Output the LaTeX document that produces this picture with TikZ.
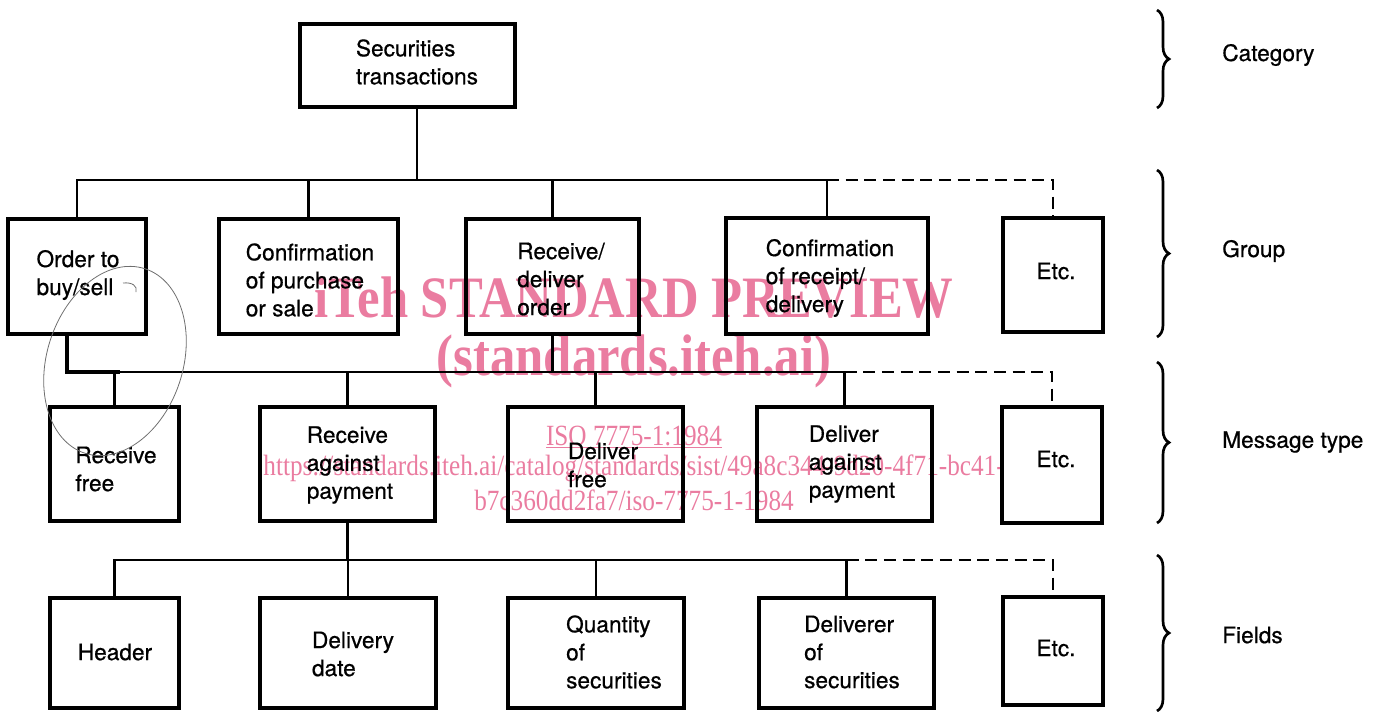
\documentclass[tikz,border=0pt]{standalone}
\usepackage{fontspec}
\usepackage{graphicx}
\setmainfont{TeX Gyre Heros}
\newfontfamily\lblfont{TeX Gyre Heros}[FakeBold=0.6]
\newfontfamily\wmfont{Liberation Serif}
\usetikzlibrary{fit,decorations.pathreplacing}
\definecolor{wmpink}{RGB}{234,124,160}
\definecolor{handgray}{RGB}{110,110,110}
\tikzset{
  boxframe/.style={draw, line width=2.5pt, inner sep=0pt},
  boxtext/.style={align=left, inner sep=0pt, font=\lblfont\fontsize{17}{21}\selectfont},
  conn/.style={line width=1.6pt},
  dashconn/.style={line width=1.6pt, dash pattern=on 9pt off 5pt},
  handmark/.style={line width=3.6pt},
  handline/.style={line width=0.6pt, handgray},
  bracestyle/.style={line width=2pt, decorate, decoration={brace, amplitude=9pt}},
  sidelabel/.style={anchor=west, inner sep=0pt, font=\lblfont\fontsize{17}{21}\selectfont},
  wmbig/.style={text=wmpink, inner sep=0pt, font=\wmfont\bfseries\fontsize{44}{50}\selectfont},
  wmsmall/.style={text=wmpink, inner sep=0pt, font=\wmfont\fontsize{22}{24}\selectfont}
}
\newcommand{\mkbox}[6]{%
  \node[boxframe, fit={(#2,#3)(#4,#5)}] (#1) {};
}
\begin{document}
\begin{tikzpicture}[x=0.75pt,y=-0.75pt]
\useasboundingbox (0,0) rectangle (1387,711);

% watermark (behind)
\node[wmbig] (wm1) at (634,298) {\scalebox{0.864}[1]{iTeh STANDARD PREVIEW}};
\node[wmbig] (wm2) at (634,361) {\scalebox{0.864}[1]{(standards.iteh.ai)}};
\node[wmsmall] (wm3) at (634,437) {\scalebox{0.86}[1]{\underline{ISO 7775-1:1984}}};
\node[wmsmall] (wm4) at (634,468) {\scalebox{0.86}[1]{https://standards.iteh.ai/catalog/standards/sist/49a8c344-9d20-4f71-bc41-}};
\node[wmsmall] (wm5) at (634,500) {\scalebox{0.86}[1]{b7c360dd2fa7/iso-7775-1-1984}};

% boxes
\mkbox{sec}{300}{24}{515}{107}{}
\mkbox{ord}{8}{219}{146}{334}{}
\mkbox{cpur}{219}{219}{398}{334}{}
\mkbox{rdo}{466}{219}{639}{334}{}
\mkbox{crd}{726}{218}{928}{334}{}
\mkbox{ea}{1003}{218}{1103}{332}{}
\mkbox{rf}{50}{407}{179}{521}{}
\mkbox{rap}{260}{407}{435}{521}{}
\mkbox{df}{508}{407}{683}{521}{}
\mkbox{dap}{757}{407}{932}{521}{}
\mkbox{eb}{1002}{407}{1102}{523}{}
\mkbox{hdr}{50}{598}{179}{708}{}
\mkbox{dd}{260}{598}{436}{708}{}
\mkbox{qty}{508}{598}{684}{708}{}
\mkbox{dlr}{759}{598}{934}{708}{}
\mkbox{ec}{1003}{597}{1103}{705}{}

% texts
\node[boxtext] (sec-t) at (417,62) {Securities\\transactions};
\node[boxtext] (ord-t) at (78,275) {Order to\\buy/sell};
\node[boxtext] (cpur-t) at (310,280) {Confirmation\\of purchase\\or sale};
\node[boxtext] (rdo-t) at (561,279) {Receive/\\deliver\\order};
\node[boxtext] (crd-t) at (830,278) {Confirmation\\of receipt/\\delivery};
\node[boxtext] (ea-t) at (1056,271) {Etc.};
\node[boxtext] (rf-t) at (116,469) {Receive\\free};
\node[boxtext] (rap-t) at (350,465) {Receive\\against\\payment};
\node[boxtext] (df-t) at (603,465) {Deliver\\free};
\node[boxtext] (dap-t) at (852,464) {Deliver\\against\\payment};
\node[boxtext] (eb-t) at (1056,459) {Etc.};
\node[boxtext] (hdr-t) at (115,652) {Header};
\node[boxtext] (dd-t) at (353,654) {Delivery\\date};
\node[boxtext] (qty-t) at (614,652) {Quantity\\of\\securities};
\node[boxtext] (dlr-t) at (852,652) {Deliverer\\of\\securities};
\node[boxtext] (ec-t) at (1056,648) {Etc.};

% bus levels
\coordinate (L1) at (0,180);
\coordinate (L2) at (0,372);
\coordinate (L3) at (0,560);
\coordinate (mk) at (67,372);

% level 1
\draw[conn] (sec.south -| sec-t) -- (sec-t |- L1);
\draw[conn] (ord.north) -- (ord.north |- L1) -- (crd.north |- L1) -- (crd.north);
\draw[conn] (cpur.north) -- (cpur.north |- L1);
\draw[conn] (rdo.north) -- (rdo.north |- L1);
\draw[dashconn] (crd.north |- L1) -- (ea.north |- L1) -- (ea.north);

% level 2
\draw[conn] (rdo.south) -- (rdo.south |- L2);
\draw[conn] (mk) -- (dap.north |- L2) -- (dap.north);
\draw[conn] (rf.north) -- (rf.north |- L2);
\draw[conn] (rap.north) -- (rap.north |- L2);
\draw[conn] (df.north) -- (df.north |- L2);
\draw[dashconn] (dap.north |- L2) -- (eb.north |- L2) -- (eb.north);
\draw[handmark] (ord.south -| mk) -- (mk) -- ([xshift=4pt]rf.north |- L2);

% level 3
\draw[conn] (rap.south) -- (rap.south |- L3);
\draw[conn] (hdr.north) -- (hdr.north |- L3) -- (dlr.north |- L3) -- (dlr.north);
\draw[conn] (dd.north) -- (dd.north |- L3);
\draw[conn] (qty.north) -- (qty.north |- L3);
\draw[dashconn] (dlr.north |- L3) -- (ec.north |- L3) -- (ec.north);

% hand-drawn ellipse
\draw[handline, rotate around={-18:(115,361)}] (115,361) ellipse (68 and 97);
\draw[handline] (123,283) .. controls (132,282) and (138,286) .. (136,292);

% braces and side labels
\coordinate (bc1) at (1157,10);  \coordinate (bc2) at (1157,108);
\coordinate (bg1) at (1157,170); \coordinate (bg2) at (1157,337);
\coordinate (bm1) at (1157,362); \coordinate (bm2) at (1157,523);
\coordinate (bf1) at (1157,555); \coordinate (bf2) at (1157,711);
\draw[bracestyle] (bc1) -- (bc2);
\draw[bracestyle] (bg1) -- (bg2);
\draw[bracestyle] (bm1) -- (bm2);
\draw[bracestyle] (bf1) -- (bf2);
\node[sidelabel] (lc) at (1222,55) {Category};
\node[sidelabel] (lg) at (1222,251) {Group};
\node[sidelabel] (lm) at (1222,442) {Message type};
\node[sidelabel] (lf) at (1222,635) {Fields};
\end{tikzpicture}
\end{document}
